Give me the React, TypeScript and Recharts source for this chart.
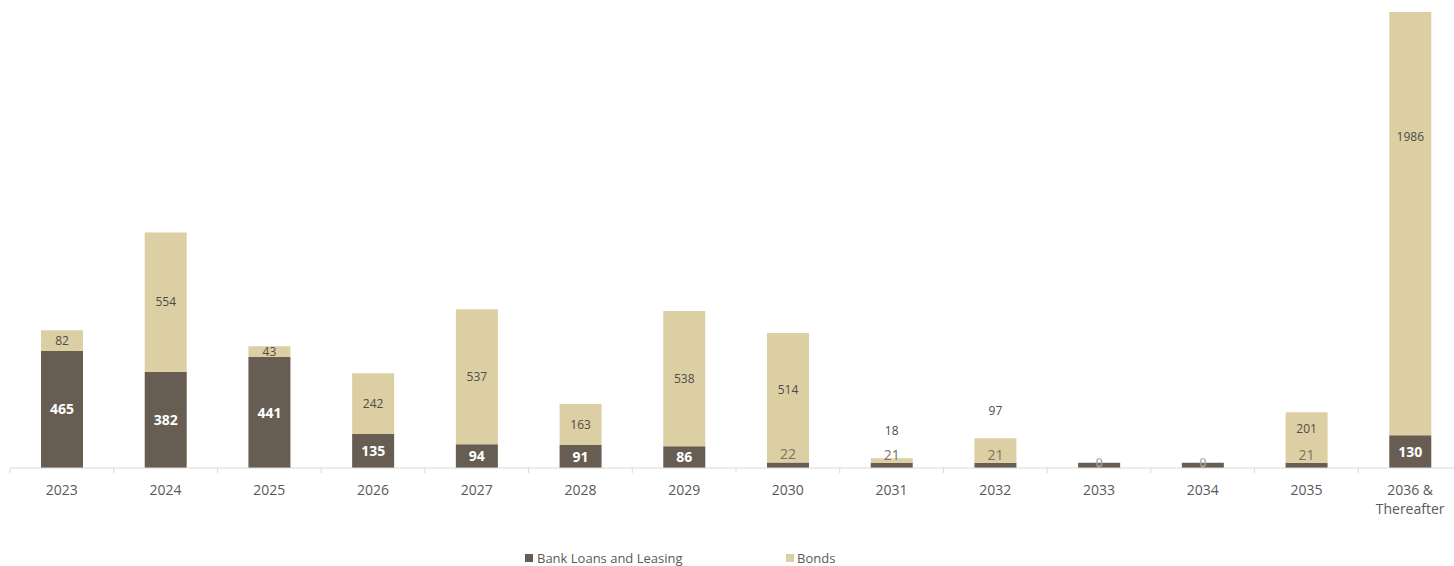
import { BarChart, Bar, XAxis, YAxis, Legend, LabelList } from "recharts";

const years = [
  "2023", "2024", "2025", "2026", "2027", "2028", "2029",
  "2030", "2031", "2032", "2033", "2034", "2035", "2036 & Thereafter",
];
const bankLoans = [465, 382, 441, 135, 94, 91, 86, 22, 21, 21, 21, 21, 21, 130];
const bonds = [82, 554, 43, 242, 537, 163, 538, 514, 18, 97, 0, 0, 201, 1986];

const data = years.map((year, i) => ({
  year,
  bank: bankLoans[i],
  bonds: bonds[i],
}));

const W = 1462;
const H = 566;
const TOP = 12;
const LEFT = 10;
const LEGEND_H = 30;
const XAXIS_H = 68;
const AXIS_Y = H - LEGEND_H - XAXIS_H;
const BAND = (W - LEFT) / years.length;

const DARK = "#675d52";
const BEIGE = "#dccfa3";
const FONT = "'Open Sans', sans-serif";

const YearTick = (props: any) => {
  const { x, payload, index } = props;
  const label: string = payload.value;
  const lines = label.includes(" & ")
    ? [label.split(" & ")[0] + " &", label.split(" & ")[1]]
    : [label];
  return (
    <g>
      <line x1={x - BAND / 2} x2={x - BAND / 2} y1={AXIS_Y} y2={AXIS_Y + 5} stroke="#d9d9d9" />
      {index === years.length - 1 && (
        <line x1={x + BAND / 2} x2={x + BAND / 2} y1={AXIS_Y} y2={AXIS_Y + 5} stroke="#d9d9d9" />
      )}
      {lines.map((t, k) => (
        <text
          key={k}
          x={x}
          y={AXIS_Y + 27 + k * 19}
          textAnchor="middle"
          fontFamily={FONT}
          fontSize={14}
          fill="#595959"
        >
          {t}
        </text>
      ))}
    </g>
  );
};

const BankLabel = (props: any) => {
  const { x, y, width, height, value, index } = props;
  const cx = x + width / 2;
  if (value >= 50) {
    return (
      <text x={cx} y={y + height / 2} dy={5} textAnchor="middle" fontFamily={FONT} fontSize={14} fontWeight="bold" fill="#ffffff">
        {value}
      </text>
    );
  }
  // zero bonds: its label sits on top of the bank bar
  if (bonds[index] === 0) {
    return (
      <text x={cx} y={y} dy={4} textAnchor="middle" fontFamily={FONT} fontSize={12} fill="#4d4d4d" stroke="#ffffff" strokeWidth={0.3}>
        {bonds[index]}
      </text>
    );
  }
  return (
    <text x={cx} y={y - 8} dy={5} textAnchor="middle" fontFamily={FONT} fontSize={14} fill="#7b7265">
      {value}
    </text>
  );
};

const BondsLabel = (props: any) => {
  const { x, y, width, height, value, index } = props;
  if (!value) return null;
  const cx = x + width / 2;
  let cy = y + height / 2;
  if (y <= TOP + 1) cy = TOP + 125;
  else if (bankLoans[index] < 50) cy = height > 40 ? cy - 8 : y - 27;
  return (
    <text x={cx} y={cy} dy={4} textAnchor="middle" fontFamily={FONT} fontSize={12} fill="#4d4d4d">
      {value}
    </text>
  );
};

const LegendContent = () => (
  <div style={{ position: "relative", height: LEGEND_H, fontFamily: FONT, fontSize: 13, color: "#595959" }}>
    <div style={{ position: "absolute", left: 525, top: 18, width: 8, height: 8, background: DARK }} />
    <div style={{ position: "absolute", left: 537, top: 13, lineHeight: "18px", whiteSpace: "nowrap" }}>
      Bank Loans and Leasing
    </div>
    <div style={{ position: "absolute", left: 786, top: 18, width: 8, height: 8, background: BEIGE }} />
    <div style={{ position: "absolute", left: 797, top: 13, lineHeight: "18px", whiteSpace: "nowrap" }}>
      Bonds
    </div>
  </div>
);

export default function App() {
  return (
    <div style={{ position: "absolute", left: 0, top: 0, width: 1454, height: H, overflow: "hidden", background: "#fff" }}>
      <BarChart width={W} height={H} data={data} margin={{ top: TOP, right: 0, left: LEFT, bottom: 0 }} barSize={42}>
        <XAxis
          dataKey="year"
          height={XAXIS_H}
          interval={0}
          tickLine={false}
          axisLine={{ stroke: "#d9d9d9" }}
          tick={<YearTick />}
        />
        <YAxis hide domain={[0, 1812]} allowDataOverflow />
        <Legend
          verticalAlign="bottom"
          height={LEGEND_H}
          wrapperStyle={{ left: 0, width: W }}
          content={<LegendContent />}
        />
        <Bar dataKey="bank" name="Bank Loans and Leasing" stackId="a" fill={DARK} isAnimationActive={false}>
          <LabelList dataKey="bank" content={<BankLabel />} />
        </Bar>
        <Bar dataKey="bonds" name="Bonds" stackId="a" fill={BEIGE} isAnimationActive={false}>
          <LabelList dataKey="bonds" content={<BondsLabel />} />
        </Bar>
      </BarChart>
    </div>
  );
}
